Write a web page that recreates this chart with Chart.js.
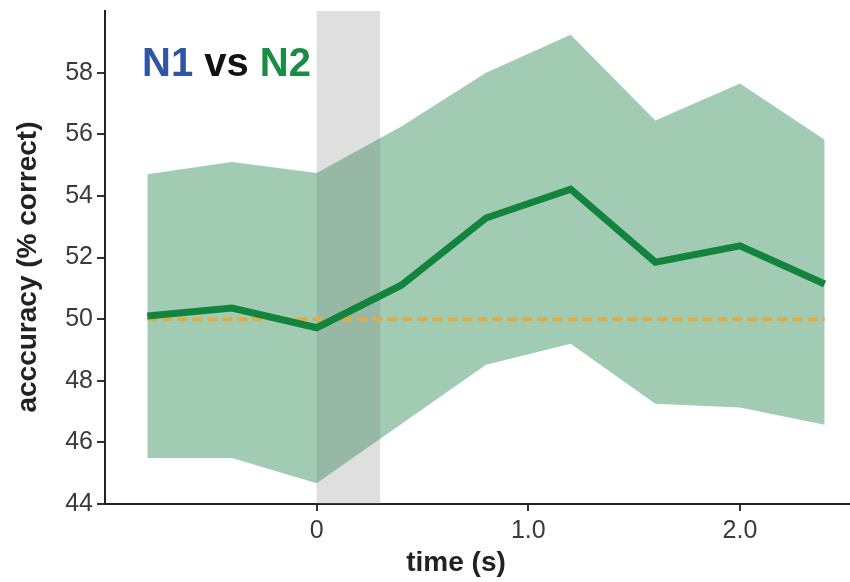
<!DOCTYPE html>
<html>
<head>
<meta charset="utf-8">
<script src="https://cdn.jsdelivr.net/npm/chart.js@4/dist/chart.umd.min.js"></script>
<style>
  html, body { margin: 0; padding: 0; background: #ffffff; }
  #wrap { width: 850px; height: 582px; }
</style>
</head>
<body>
<div id="wrap"><canvas id="c" width="850" height="582"></canvas></div>
<script>
// Decoding accuracy over time, N1 vs N2
const times     = [-0.8, -0.4, 0.0, 0.4, 0.8, 1.2, 1.6, 2.0, 2.4];
const accuracy  = [50.10, 50.36, 49.72, 51.10, 53.28, 54.22, 51.85, 52.38, 51.14];
const upperCI   = [54.70, 55.10, 54.74, 56.25, 58.00, 59.23, 56.45, 57.65, 55.82];
const lowerCI   = [45.49, 45.49, 44.67, 46.60, 48.52, 49.20, 47.25, 47.13, 46.57];
const chance    = [50, 50, 50, 50, 50, 50, 50, 50, 50];
const yTicks    = [44, 46, 48, 50, 52, 54, 56, 58];
const xTicks    = [0, 1, 2];
const xTickText = ['0', '1.0', '2.0'];
const stimulusWindow = [0, 0.3];

const FONT = '"Liberation Sans", Arial, Helvetica, sans-serif';

const pts = ys => times.map((t, i) => ({ x: t, y: ys[i] }));

// grey stimulus window, laid over the confidence band but under the lines
const windowPlugin = {
  id: 'stimWindow',
  afterDatasetDraw(chart, args) {
    if (args.index !== 2) return;
    const { ctx, chartArea, scales } = chart;
    const x0 = scales.x.getPixelForValue(stimulusWindow[0]);
    const x1 = scales.x.getPixelForValue(stimulusWindow[1]);
    ctx.save();
    ctx.fillStyle = 'rgba(128,128,128,0.25)';
    ctx.fillRect(x0, chartArea.top, x1 - x0, chartArea.bottom - chartArea.top);
    ctx.restore();
  }
};

// axis titles and the comparison label
const labelsPlugin = {
  id: 'labels',
  afterDraw(chart) {
    const { ctx } = chart;
    ctx.save();
    ctx.fillStyle = '#222222';
    ctx.font = 'bold 28px ' + FONT;
    ctx.textAlign = 'center';
    ctx.textBaseline = 'middle';
    ctx.fillText('time (s)', 456, 563);
    ctx.translate(28, 267);
    ctx.rotate(-Math.PI / 2);
    ctx.fillText('acccuracy (% correct)', 0, 0);
    ctx.restore();

    ctx.save();
    ctx.font = 'bold 40px ' + FONT;
    ctx.textAlign = 'left';
    ctx.textBaseline = 'alphabetic';
    let x = 142;
    const parts = [['N1', '#2f55a4'], [' vs ', '#111111'], ['N2', '#1b8c45']];
    for (const [txt, col] of parts) {
      ctx.fillStyle = col;
      ctx.fillText(txt, x, 76);
      x += ctx.measureText(txt).width;
    }
    ctx.restore();
  }
};

new Chart(document.getElementById('c'), {
  type: 'line',
  data: {
    datasets: [
      {
        label: 'accuracy',
        data: pts(accuracy),
        borderColor: '#13843d',
        borderWidth: 7,
        pointRadius: 0,
        tension: 0,
        fill: false,
        borderCapStyle: 'butt',
        borderJoinStyle: 'miter'
      },
      {
        label: 'chance',
        data: pts(chance),
        borderColor: '#e9a93a',
        borderWidth: 3.5,
        borderDash: [10, 5],
        pointRadius: 0,
        fill: false
      },
      {
        label: 'upper',
        data: pts(upperCI),
        borderWidth: 0,
        borderColor: 'rgba(0,0,0,0)',
        backgroundColor: '#a1cbb3',
        pointRadius: 0,
        tension: 0,
        fill: '+1'
      },
      {
        label: 'lower',
        data: pts(lowerCI),
        borderWidth: 0,
        borderColor: 'rgba(0,0,0,0)',
        pointRadius: 0,
        tension: 0,
        fill: false
      }
    ]
  },
  options: {
    responsive: false,
    animation: false,
    events: [],
    layout: { padding: { left: 0, right: 1, top: 11, bottom: 0 } },
    plugins: {
      legend: { display: false },
      tooltip: { enabled: false },
      filler: { propagate: false }
    },
    scales: {
      x: {
        type: 'linear',
        min: -1.0,
        max: 2.515,
        afterBuildTicks: s => { s.ticks = xTicks.map(v => ({ value: v })); },
        afterFit: s => { s.height = 78; s.paddingLeft = 0; s.paddingRight = 0; },
        ticks: {
          color: '#3a3a3a',
          font: { family: FONT, size: 25 },
          padding: 5,
          maxRotation: 0,
          callback: (v) => xTickText[xTicks.indexOf(v)]
        },
        grid: { drawOnChartArea: false, drawTicks: true, tickLength: 7, color: '#333333', lineWidth: 2 },
        border: { display: true, color: '#222222', width: 2 }
      },
      y: {
        type: 'linear',
        min: 44,
        max: 60,
        afterBuildTicks: s => { s.ticks = yTicks.map(v => ({ value: v })); },
        afterFit: s => { s.width = 105; s.paddingTop = 0; s.paddingBottom = 0; },
        ticks: {
          color: '#3a3a3a',
          font: { family: FONT, size: 25 },
          padding: 4
        },
        grid: { drawOnChartArea: false, drawTicks: true, tickLength: 8, color: '#333333', lineWidth: 2 },
        border: { display: true, color: '#222222', width: 2 }
      }
    }
  },
  plugins: [windowPlugin, labelsPlugin]
});
</script>
</body>
</html>
